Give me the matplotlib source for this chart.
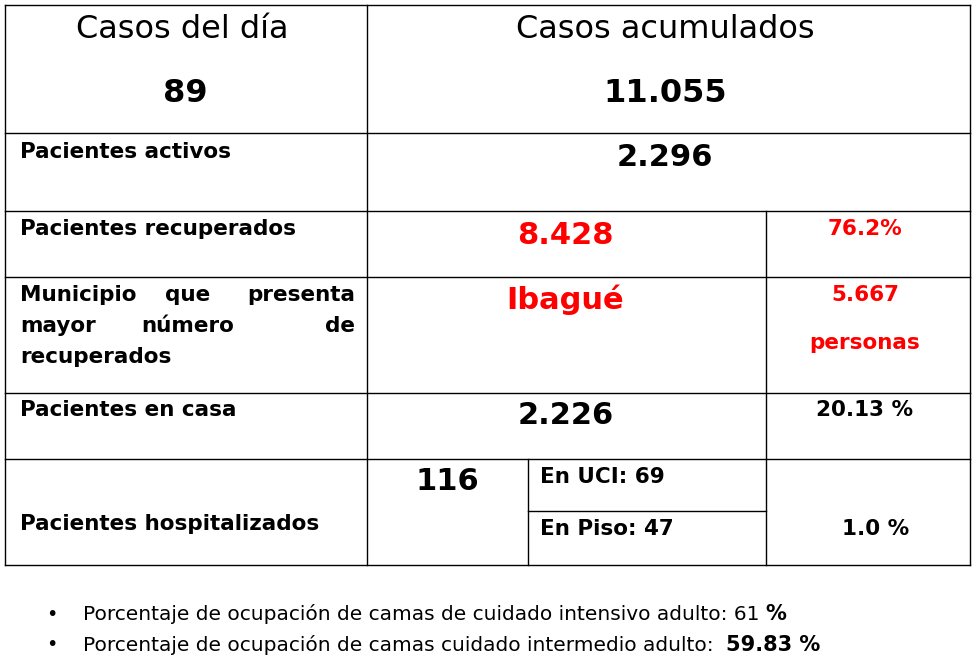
import matplotlib.pyplot as plt

casos_dia = "89"
casos_acum = "11.055"
row_labels = ["Pacientes activos", "Pacientes recuperados",
              ["Municipio que presenta", "mayor número de", "recuperados"],
              "Pacientes en casa", "Pacientes hospitalizados"]
activos = "2.296"
recuperados = "8.428"
recup_pct = "76.2%"
municipio = "Ibagué"
municipio_n = "5.667"
en_casa = "2.226"
casa_pct = "20.13 %"
hosp = "116"
uci = "En UCI: 69"
piso = "En Piso: 47"
hosp_pct = "1.0 %"
bullets = [("Porcentaje de ocupación de camas de cuidado intensivo adulto: 61 ", "%"),
           ("Porcentaje de ocupación de camas cuidado intermedio adulto:  ", "59.83 %")]

fig = plt.figure(figsize=(9.78, 6.63), dpi=100)
ax = fig.add_axes([0, 0, 1, 1])
ax.set_xlim(0, 978)
ax.set_ylim(663, 0)
ax.axis("off")

lw = 1.0
def hline(y, x0, x1):
    ax.plot([x0, x1], [y, y], color="black", lw=lw)
def vline(x, y0, y1):
    ax.plot([x, x], [y0, y1], color="black", lw=lw)

for y in [5, 133, 211, 277, 393, 459, 565]:
    hline(y, 5, 970)
vline(5, 5, 565); vline(970, 5, 565); vline(367, 5, 565)
vline(766, 211, 565); vline(528, 459, 565); hline(511, 528, 766)

red = "#ff0000"
LS = 15.5
def t(x, y, s, size, bold=True, color="black", ha="center"):
    return ax.text(x, y, s, fontsize=size, fontweight="bold" if bold else "normal",
                   color=color, ha=ha, va="center", family="DejaVu Sans")

t(182, 30, "Casos del día", 23, bold=False)
t(185, 93, casos_dia, 23)
t(665, 30, "Casos acumulados", 23, bold=False)
t(665, 93, casos_acum, 23)

t(20, 152, row_labels[0], LS, ha="left")
t(665, 158, activos, 22)
t(20, 229, row_labels[1], LS, ha="left")
t(565, 236, recuperados, 22, color=red)
t(865, 229, recup_pct, LS, color=red)

# justified multi-line label
lines = row_labels[2]
for i, line in enumerate(lines):
    y = 295 + i * 31
    words = line.split()
    if i == len(lines) - 1 or len(words) == 1:
        t(20, y, line, LS, ha="left")
        continue
    n = len(words)
    # place words spread between left 20 and right 355
    t(20, y, words[0], LS, ha="left")
    t(355, y, words[-1], LS, ha="right")
    for j in range(1, n - 1):
        t(20 + (355 - 20) * j / (n - 1), y, words[j], LS)

t(565, 300, municipio, 22, color=red)
t(865, 295, municipio_n, LS, color=red)
t(865, 343, "personas", LS, color=red)
t(20, 410, row_labels[3], LS, ha="left")
t(566, 416, en_casa, 22)
t(865, 410, casa_pct, LS)
t(20, 524, row_labels[4], LS, ha="left")
t(447, 482, hosp, 22)
t(540, 477, uci, 15.5, ha="left")
t(540, 529, piso, 15.5, ha="left")
t(876, 529, hosp_pct, 15.5)

for i, (txt, bold_part) in enumerate(bullets):
    y = 614 + i * 31
    t(52, y, "•", 14, bold=False)
    tx = ax.text(83, y, txt, fontsize=14.5, ha="left", va="center", family="DejaVu Sans")
    ax.annotate(bold_part, xycoords=tx, xy=(1, 0.5), va="center", ha="left",
                fontsize=15, fontweight="bold", family="DejaVu Sans")

fig.savefig("out.png", dpi=100)
